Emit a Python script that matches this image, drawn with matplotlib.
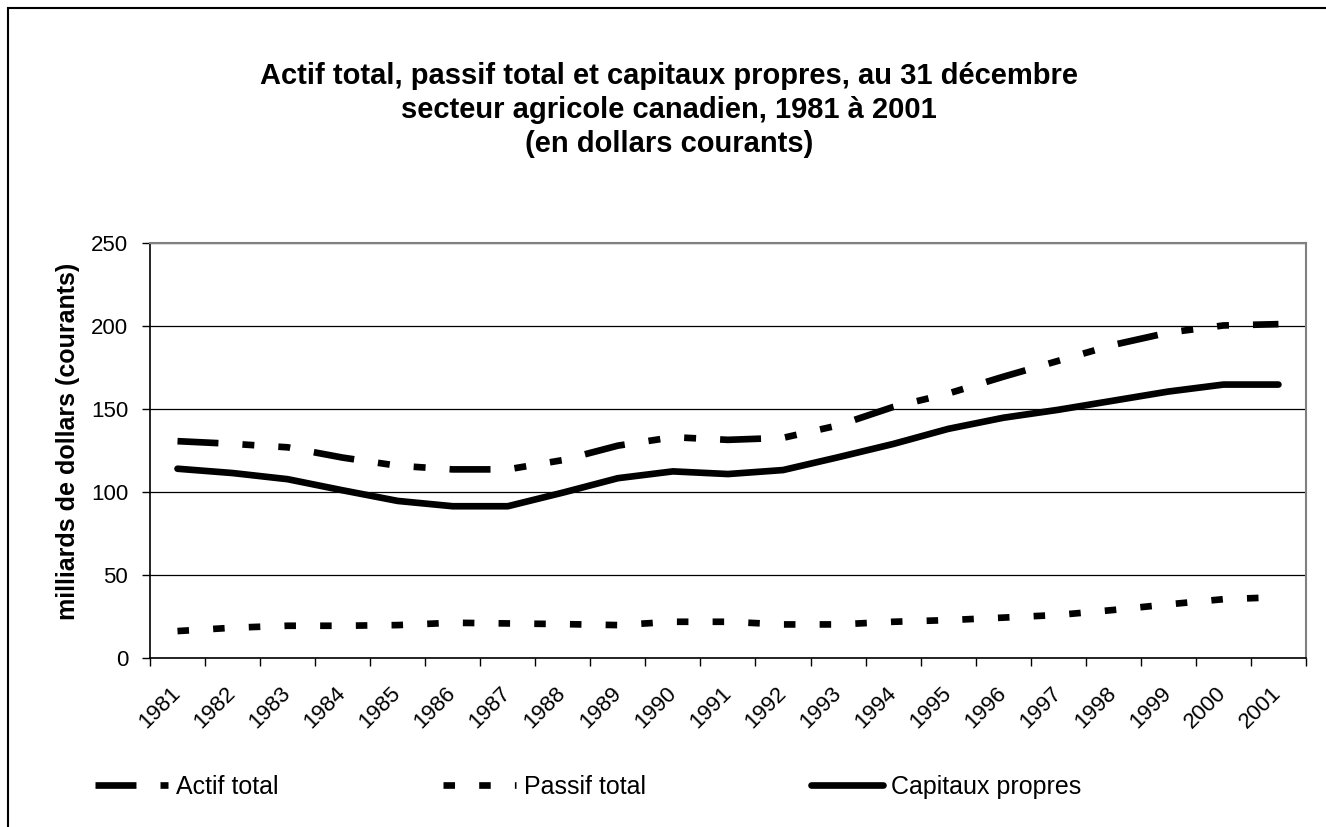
import matplotlib
matplotlib.use("Agg")
import matplotlib.pyplot as plt
from matplotlib.patches import Rectangle

plt.rcParams['font.family'] = ['Liberation Sans', 'DejaVu Sans']
plt.rcParams['lines.scale_dashes'] = False

# Données (milliards de dollars courants)
annees = ['1981', '1982', '1983', '1984', '1985', '1986', '1987', '1988', '1989', '1990', '1991',
          '1992', '1993', '1994', '1995', '1996', '1997', '1998', '1999', '2000', '2001']
actif_total = [130.6, 129.0, 126.9, 120.7, 115.8, 113.6, 113.6, 119.2, 127.9, 133.0, 131.4,
               132.6, 140.1, 151.2, 159.3, 169.4, 179.0, 188.6, 196.0, 200.3, 201.1]
passif_total = [16.2, 18.2, 19.4, 19.4, 19.8, 21.2, 20.8, 20.4, 19.8, 21.8, 21.8,
                20.2, 20.2, 21.8, 22.8, 24.3, 25.9, 28.9, 32.3, 35.4, 36.6]
capitaux_propres = [114.0, 111.4, 107.7, 101.0, 94.6, 91.4, 91.4, 99.6, 108.3, 112.4, 110.8,
                    113.2, 120.9, 128.9, 138.0, 144.7, 149.5, 155.0, 160.5, 164.7, 164.7]

fig = plt.figure(figsize=(13.26, 8.27), dpi=100)
ax = fig.add_axes([0.1131, 0.2044, 0.8718, 0.5018])

x = range(len(annees))
lw = 4.8
ax.plot(x, actif_total, color='black', lw=lw, dashes=(29.5, 17.3, 8.6, 17.3, 8.6, 17.3),
        label='Actif total')
ax.plot(x, passif_total, color='black', lw=lw, dashes=(8.3, 17.4), label='Passif total')
ax.plot(x, capitaux_propres, color='black', lw=lw, solid_capstyle='round',
        solid_joinstyle='round', label='Capitaux propres')

ax.set_xlim(-0.5, len(annees) - 0.5)
ax.set_ylim(0, 250)
ax.set_yticks([0, 50, 100, 150, 200, 250])
# graduations entre les catégories, étiquettes au centre
ax.set_xticks([i + 0.5 for i in range(-1, len(annees))])
ax.set_xticklabels([])
ax.set_xticks(list(x), minor=True)
ax.set_xticklabels(annees, minor=True, rotation=45, ha='right', va='center',
                   rotation_mode='anchor', fontsize=16)
ax.tick_params(axis='x', which='major', direction='out', length=5.5, width=1)
ax.tick_params(axis='x', which='minor', length=0, pad=23)
ax.tick_params(axis='y', direction='out', length=5.8, width=1, labelsize=16, pad=10)

ax.yaxis.grid(True, color='black', lw=0.9)
ax.set_axisbelow(True)
for s in ['top', 'right']:
    ax.spines[s].set_color('#808080')
    ax.spines[s].set_linewidth(1.5)
for s in ['left', 'bottom']:
    ax.spines[s].set_color('black')
    ax.spines[s].set_linewidth(1.2)

fig.text(68 / 1326, 1 - 441 / 827, 'milliards de dollars (courants)', rotation=90,
         ha='center', va='center', fontsize=18, fontweight='bold')

fig.text(0.5045, 1 - 62 / 827,
         'Actif total, passif total et capitaux propres, au 31 décembre\n'
         'secteur agricole canadien, 1981 à 2001\n(en dollars courants)',
         ha='center', va='top', fontsize=21, fontweight='bold', linespacing=1.27)

fig.legend(loc='center left', bbox_to_anchor=(95 / 1326, 1 - 787 / 827), ncol=3,
           frameon=False, fontsize=18, borderpad=0, borderaxespad=0, handlelength=2.9,
           handletextpad=0.32, columnspacing=6.6)

fig.add_artist(Rectangle((8 / 1326, -0.1), 2, 1.1 - 8 / 827, transform=fig.transFigure,
                         fill=False, edgecolor='black', lw=1.5))

fig.savefig('out.png', dpi=100)
